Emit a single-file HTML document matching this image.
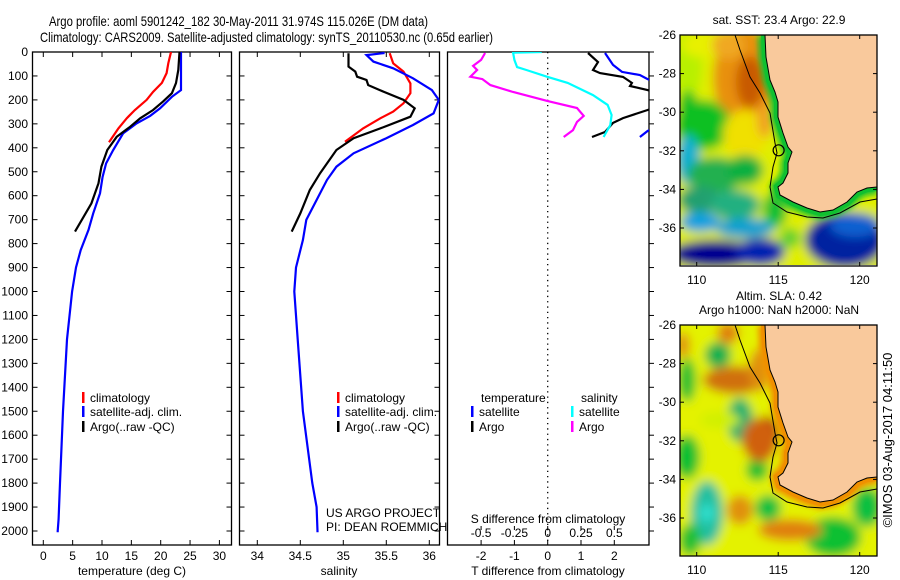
<!DOCTYPE html>
<html><head><meta charset="utf-8"><style>
html,body{margin:0;padding:0;background:#fff;overflow:hidden;}
svg{display:block;font-family:"Liberation Sans",sans-serif;}
</style></head><body>
<svg id="c" width="900" height="580" viewBox="0 0 900 580" xmlns="http://www.w3.org/2000/svg">
<defs>
<clipPath id="cp1"><rect x="32.5" y="52" width="199" height="493"/></clipPath>
<clipPath id="cp2"><rect x="239.5" y="52" width="200" height="493"/></clipPath>
<clipPath id="cp3"><rect x="447.5" y="52" width="201.5" height="493"/></clipPath>
<clipPath id="cm1"><rect x="680" y="35" width="197" height="230"/></clipPath>
<clipPath id="cm2"><rect x="680" y="325" width="197" height="231"/></clipPath>
<filter id="bl" filterUnits="userSpaceOnUse" x="640" y="0" width="260" height="580"><feGaussianBlur stdDeviation="5"/></filter>
<filter id="bl2" filterUnits="userSpaceOnUse" x="640" y="0" width="260" height="580"><feGaussianBlur stdDeviation="3"/></filter>
</defs>
<text x="49" y="26" font-size="14" textLength="379" lengthAdjust="spacingAndGlyphs">Argo profile: aoml 5901242_182 30-May-2011 31.974S 115.026E (DM data)</text>
<text x="40" y="42" font-size="14" textLength="453" lengthAdjust="spacingAndGlyphs">Climatology: CARS2009. Satellite-adjusted climatology: synTS_20110530.nc (0.65d earlier)</text>
<g id="plots"></g>
<g id="maps"></g>
<text transform="translate(892,440) rotate(-90)" font-size="13" text-anchor="middle">©IMOS 03-Aug-2017 04:11:50</text>
</svg>
<script>
// ---- data ----
const depthTicks=[0,100,200,300,400,500,600,700,800,900,1000,1100,1200,1300,1400,1500,1600,1700,1800,1900,2000];
const tempTicks=[0,5,10,15,20,25,30];
const salTicks=[34,34.5,35,35.5,36];
const tdiffTicks=[-2,-1,0,1,2];
const sdiffTicks=[-0.5,-0.25,0,0.25,0.5];
const sdiffTickLabels=["-0.5","-0.25","0","0.25","0.5"];
// temperature profiles
const climTdepth=[0,47,88,129,166,200,242,277,319,377];
const climT=[21.75,21.3,21.0,20.2,18.7,17.6,15.6,14.2,12.8,11.2];
const satTdepth=[0,159,187,235,267,298,340,409,465,521,590,674,743,827,900,1000,1200,1500,1800,1950,2000,2005];
const satT=[23.46,23.46,21.9,19.9,18.2,15.9,13.6,11.9,10.7,10.1,9.66,8.5,7.7,6.37,5.57,4.9,4.04,3.36,2.85,2.6,2.45,2.45];
const argoTdepth=[0,75,130,172,207,242,277,312,354,409,479,548,632,750];
const argoT=[23.2,23.0,22.6,21.9,20.4,18.7,16.5,14.8,12.5,10.9,9.9,9.4,8.2,5.4];
// salinity profiles
const climSdepth=[5,47,82,131,172,214,249,277,319,375];
const climS=[35.54,35.58,35.70,35.78,35.78,35.70,35.58,35.43,35.23,35.02];
const satSdepth=[4,13,40,68,110,159,200,256,305,360,423,479,534,618,701,785,900,1000,1200,1500,1800,1900,2000,2005];
const satS=[35.48,35.27,35.35,35.58,35.81,36.03,36.11,36.05,35.81,35.50,35.12,34.92,34.81,34.69,34.57,34.53,34.45,34.43,34.47,34.53,34.64,34.69,34.70,34.70];
const argoSdepth=[5,61,82,103,117,138,166,200,235,270,319,360,409,506,576,674,750];
const argoS=[35.06,35.06,35.14,35.16,35.27,35.29,35.47,35.70,35.83,35.78,35.43,35.12,34.92,34.73,34.61,34.50,34.40];
// differences from climatology
const dSatTdepth=[4,54,83,96,113,200,330,355];
const dSatT=[1.72,1.96,2.23,2.77,3.0,5.0,3.0,2.77];
const dArgoTdepth=[4,42,75,88,104,129,142,159,200,242,276,296,334,355];
const dArgoT=[1.21,1.51,1.36,1.57,2.26,2.53,2.47,3.0,4.0,3.0,2.26,1.96,1.72,1.33];
const dSatSdepth=[0,3,33,63,75,104,129,180,221,263,305,355];
const dSatS=[-0.045,-0.26,-0.25,-0.23,-0.16,0,0.15,0.34,0.45,0.48,0.47,0.42];
const dArgoSdepth=[4,33,58,75,103,113,138,167,205,234,267,292,326,355];
const dArgoS=[-0.47,-0.50,-0.56,-0.53,-0.58,-0.49,-0.43,-0.26,0,0.22,0.27,0.22,0.19,0.12];
// map ticks
const latTicks=[-26,-28,-30,-32,-34,-36];
const lonTicks=[110,115,120];

// ---- scales ----
const NS='http://www.w3.org/2000/svg';
const yD=d=>52+d*0.2395;
const xT=t=>43.3+t*5.87;
const xS=s=>257.3+(s-34)*86;
const xDT=t=>547.7+t*33.3;
const xDS=s=>547.7+s*133.2;
const mLat=(l,top)=>top+(-26-l)*19.3;
const mLon=l=>696.7+(l-110)*16.3;
function mk(tag,attrs,parent){const e=document.createElementNS(NS,tag);for(const k in attrs)e.setAttribute(k,attrs[k]);parent.appendChild(e);return e;}
const plots=document.getElementById('plots');
function txt(x,y,s,size,anchor,parent){const t=mk('text',{x:x,y:y,'font-size':size,'text-anchor':anchor},parent);t.textContent=s;return t;}

function panel(x0,x1,name){
  const g=mk('g',{},plots);
  
  
  const r=mk('rect',{x:x0,y:52,width:x1-x0,height:493,fill:'none',stroke:'#000','stroke-width':1.3},g);
  
  
  depthTicks.forEach(d=>{
    mk('line',{x1:x0,x2:x0+5,y1:yD(d),y2:yD(d),stroke:'#000'},g);
    mk('line',{x1:x1,x2:x1-5,y1:yD(d),y2:yD(d),stroke:'#000'},g);
  });
  return g;
}
function line(xs,ds,fx,color,clip,name,w){
  const pts=xs.map((v,i)=>fx(v).toFixed(1)+','+yD(ds[i]).toFixed(1)).join(' ');
  const p=mk('polyline',{points:pts,fill:'none',stroke:color,'stroke-width':w||2.2,'clip-path':'url(#'+clip+')'},plots);
  
  
}
// panel 1
const g1=panel(32.5,231.5,'temperature-panel');
depthTicks.forEach(d=>{const t=txt(28,yD(d)+4,String(d),12,'end',g1);});
tempTicks.forEach(v=>{mk('line',{x1:xT(v),x2:xT(v),y1:545,y2:540,stroke:'#000'},g1);mk('line',{x1:xT(v),x2:xT(v),y1:52,y2:57,stroke:'#000'},g1);
  const t=txt(xT(v),560,String(v),12,'middle',g1);});
const a1=txt(132,575,'temperature (deg C)',12,'middle',g1);
// panel 2
const g2=panel(239.5,439.5,'salinity-panel');
salTicks.forEach(v=>{mk('line',{x1:xS(v),x2:xS(v),y1:545,y2:540,stroke:'#000'},g2);mk('line',{x1:xS(v),x2:xS(v),y1:52,y2:57,stroke:'#000'},g2);
  const t=txt(xS(v),560,String(v),12,'middle',g2);});
const a2=txt(339,575,'salinity',12,'middle',g2);
const c1=txt(326,517,'US ARGO PROJECT',12,'start',g2);
const c2=txt(326,531,'PI: DEAN ROEMMICH',12,'start',g2);
// panel 3
const g3=mk('g',{},plots);


mk('rect',{x:447.5,y:52,width:201.5,height:493,fill:'none',stroke:'#000','stroke-width':1.3},g3);
depthTicks.forEach(d=>{mk('line',{x1:649,x2:654,y1:yD(d),y2:yD(d),stroke:'#000'},g3);});
mk('line',{x1:xDT(0),x2:xDT(0),y1:52,y2:545,stroke:'#000','stroke-dasharray':'1.3,4','stroke-width':1.3},g3);
tdiffTicks.forEach(v=>{mk('line',{x1:xDT(v),x2:xDT(v),y1:545,y2:540,stroke:'#000'},g3);
  const t=txt(xDT(v),560,String(v),12,'middle',g3);});
sdiffTicks.forEach((v,i)=>{mk('line',{x1:xDS(v),x2:xDS(v),y1:530,y2:526,stroke:'#000'},g3);
  const t=txt(xDS(v),537,sdiffTickLabels[i],12,'middle',g3);});
const a3=txt(548,523,'S difference from climatology',12,'middle',g3);
const a4=txt(548,575,'T difference from climatology',12,'middle',g3);

line(climT,climTdepth,xT,'#f00','cp1','climatology-temperature-line');
line(satT,satTdepth,xT,'#00f','cp1','satellite-temperature-line');
line(argoT,argoTdepth,xT,'#000','cp1','argo-temperature-line');
line(climS,climSdepth,xS,'#f00','cp2','climatology-salinity-line');
line(satS,satSdepth,xS,'#00f','cp2','satellite-salinity-line');
line(argoS,argoSdepth,xS,'#000','cp2','argo-salinity-line');
line(dSatT,dSatTdepth,xDT,'#00f','cp3','satellite-tdiff-line');
line(dArgoT,dArgoTdepth,xDT,'#000','cp3','argo-tdiff-line');
line(dSatS,dSatSdepth,xDS,'#0ff','cp3','satellite-sdiff-line');
line(dArgoS,dArgoSdepth,xDS,'#f0f','cp3','argo-sdiff-line');

function legend(g,x,y,color,label,name){
  const lg=mk('g',{},g);
  
  
  mk('rect',{x:x,y:y-10,width:2.5,height:11,fill:color},lg);
  txt(x+8,y,label,12,'start',lg);
}
legend(g1,82,402,'#f00','climatology','legend-climatology');
legend(g1,82,416,'#00f','satellite-adj. clim.','legend-satellite');
legend(g1,82,431,'#000','Argo(..raw -QC)','legend-argo');
legend(g2,337,402,'#f00','climatology','legend-climatology-2');
legend(g2,337,416,'#00f','satellite-adj. clim.','legend-satellite-2');
legend(g2,337,431,'#000','Argo(..raw -QC)','legend-argo-2');
const lt=txt(481,402,'temperature',12,'start',g3);
const ls=txt(581,402,'salinity',12,'start',g3);
legend(g3,471,416,'#00f','satellite','legend-t-satellite');
legend(g3,471,431,'#000','Argo','legend-t-argo');
legend(g3,571,416,'#0ff','satellite','legend-s-satellite');
legend(g3,571,431,'#f0f','Argo','legend-s-argo');

// ---- maps ----
const maps=document.getElementById('maps');
const coast=[[765,35],[766,57],[770,80],[775,92],[778,102],[778,117],[783,133],[788,147],[792,152],[788,163],[788,173],[783,183],[778,187],[780,195],[793,202],[807,208],[820,212],[833,210],[847,202],[857,192],[867,188],[877,187]];
const contour=[[735,35],[740,50],[750,77],[760,93],[770,113],[775,143],[777,153],[773,167],[770,187],[773,203],[787,212],[807,217],[823,218],[840,213],[860,202],[877,199]];
function pstr(arr,dy){return arr.map(p=>p[0]+','+(p[1]+dy)).join(' ');}
function map(top,clip,bg,blobs,strip,name,title){
  const g=mk('g',{},maps);
  
  
  const dy=top-35;
  const inner=mk('g',{'clip-path':'url(#'+clip+')'},g);
  mk('rect',{x:680,y:top,width:197,height:231,fill:bg},inner);
  const bgB=mk('g',{filter:'url(#bl)'},inner);
  mk('rect',{x:660,y:top-20,width:240,height:270,fill:bg},bgB);
  blobs.forEach(b=>mk('ellipse',{cx:b[0],cy:b[1],rx:b[2],ry:b[3],fill:b[4]},bgB));
  mk('polyline',{points:pstr(coast,dy),fill:'none',stroke:strip,'stroke-width':14,filter:'url(#bl2)'},inner);
  mk('polyline',{points:pstr(coast,dy),fill:'none',stroke:strip,'stroke-width':8},inner);
  mk('polygon',{points:pstr(coast,dy)+' 877,'+top,fill:'#f9c99c'},inner);
  mk('polyline',{points:pstr(coast,dy),fill:'none',stroke:'#000','stroke-width':1},inner);
  mk('polyline',{points:pstr(contour,dy),fill:'none',stroke:'#000','stroke-width':1},inner);
  mk('circle',{cx:mLon(115.026),cy:mLat(-31.974,top),r:5.5,fill:'none',stroke:'#000','stroke-width':1.2},inner);
  mk('rect',{x:680,y:top,width:197,height:231,fill:'none',stroke:'#000','stroke-width':1.3},g);
  latTicks.forEach(l=>{const y=mLat(l,top);mk('line',{x1:680,x2:684,y1:y,y2:y,stroke:'#000'},g);mk('line',{x1:877,x2:873,y1:y,y2:y,stroke:'#000'},g);
    const t=txt(676,y+4,String(l),12,'end',g);});
  lonTicks.forEach(l=>{const x=mLon(l);mk('line',{x1:x,x2:x,y1:top,y2:top+4,stroke:'#000'},g);mk('line',{x1:x,x2:x,y1:top+231,y2:top+227,stroke:'#000'},g);
    const t=txt(x,top+249,String(l),12,'middle',g);});
  title.forEach((s,i)=>{const t=txt(779,top-11-(title.length-1-i)*14,s,12,'middle',g);});
}
const sstBlobs=[
 [688,65,14,35,'#b8f000'],[700,45,18,12,'#e8f000'],
 [745,78,32,50,'#e89010'],[750,82,14,26,'#c85a00'],[728,45,16,14,'#f0a820'],
 [703,125,28,25,'#10c020'],[688,110,10,20,'#10c020'],[745,135,22,25,'#f0e000'],[765,120,8,18,'#f0a020'],
 [688,160,12,25,'#10b0d0'],[715,175,28,18,'#20b050'],[745,170,18,15,'#10b040'],
 [700,200,22,14,'#20a070'],[735,205,25,15,'#20b080'],[775,210,12,18,'#10c030'],
 [700,222,20,10,'#10a0e0'],[745,228,30,10,'#10a0d0'],
 [715,254,45,14,'#000090'],[760,252,25,14,'#0020b0'],[845,240,40,28,'#0020a0'],[855,225,25,12,'#1060d0'],[790,238,10,10,'#60d030']];
map(35,'cm1','#e0ee00',sstBlobs,'#10c030','sst-map',['sat. SST: 23.4  Argo: 22.9']);
const slaBlobs=[[718,355,13,13,'#10b050'],[740,420,13,22,'#10b070'],[707,513,16,32,'#20c0a0'],[707,513,7,9,'#30e0d0'],[768,508,13,13,'#10c040'],[757,470,11,11,'#10c030'],[687,457,13,22,'#10c030'],[687,380,9,22,'#20c030'],[833,537,28,20,'#10c030'],[867,507,15,20,'#10c040'],[735,380,32,14,'#d07010'],[767,433,13,17,'#b01000'],[760,440,18,22,'#d06010'],[740,510,13,15,'#e09010'],[790,530,32,11,'#e08010'],[728,333,11,11,'#e08010'],[683,345,7,13,'#e09010'],[760,370,11,22,'#e09010'],[720,420,20,8,'#d0f000'],[690,540,11,16,'#20c030']];
map(325,'cm2','#e4f200',slaBlobs,'#f09000','sla-map',['Altim. SLA: 0.42','Argo h1000: NaN h2000: NaN']);
</script>
</body></html>
